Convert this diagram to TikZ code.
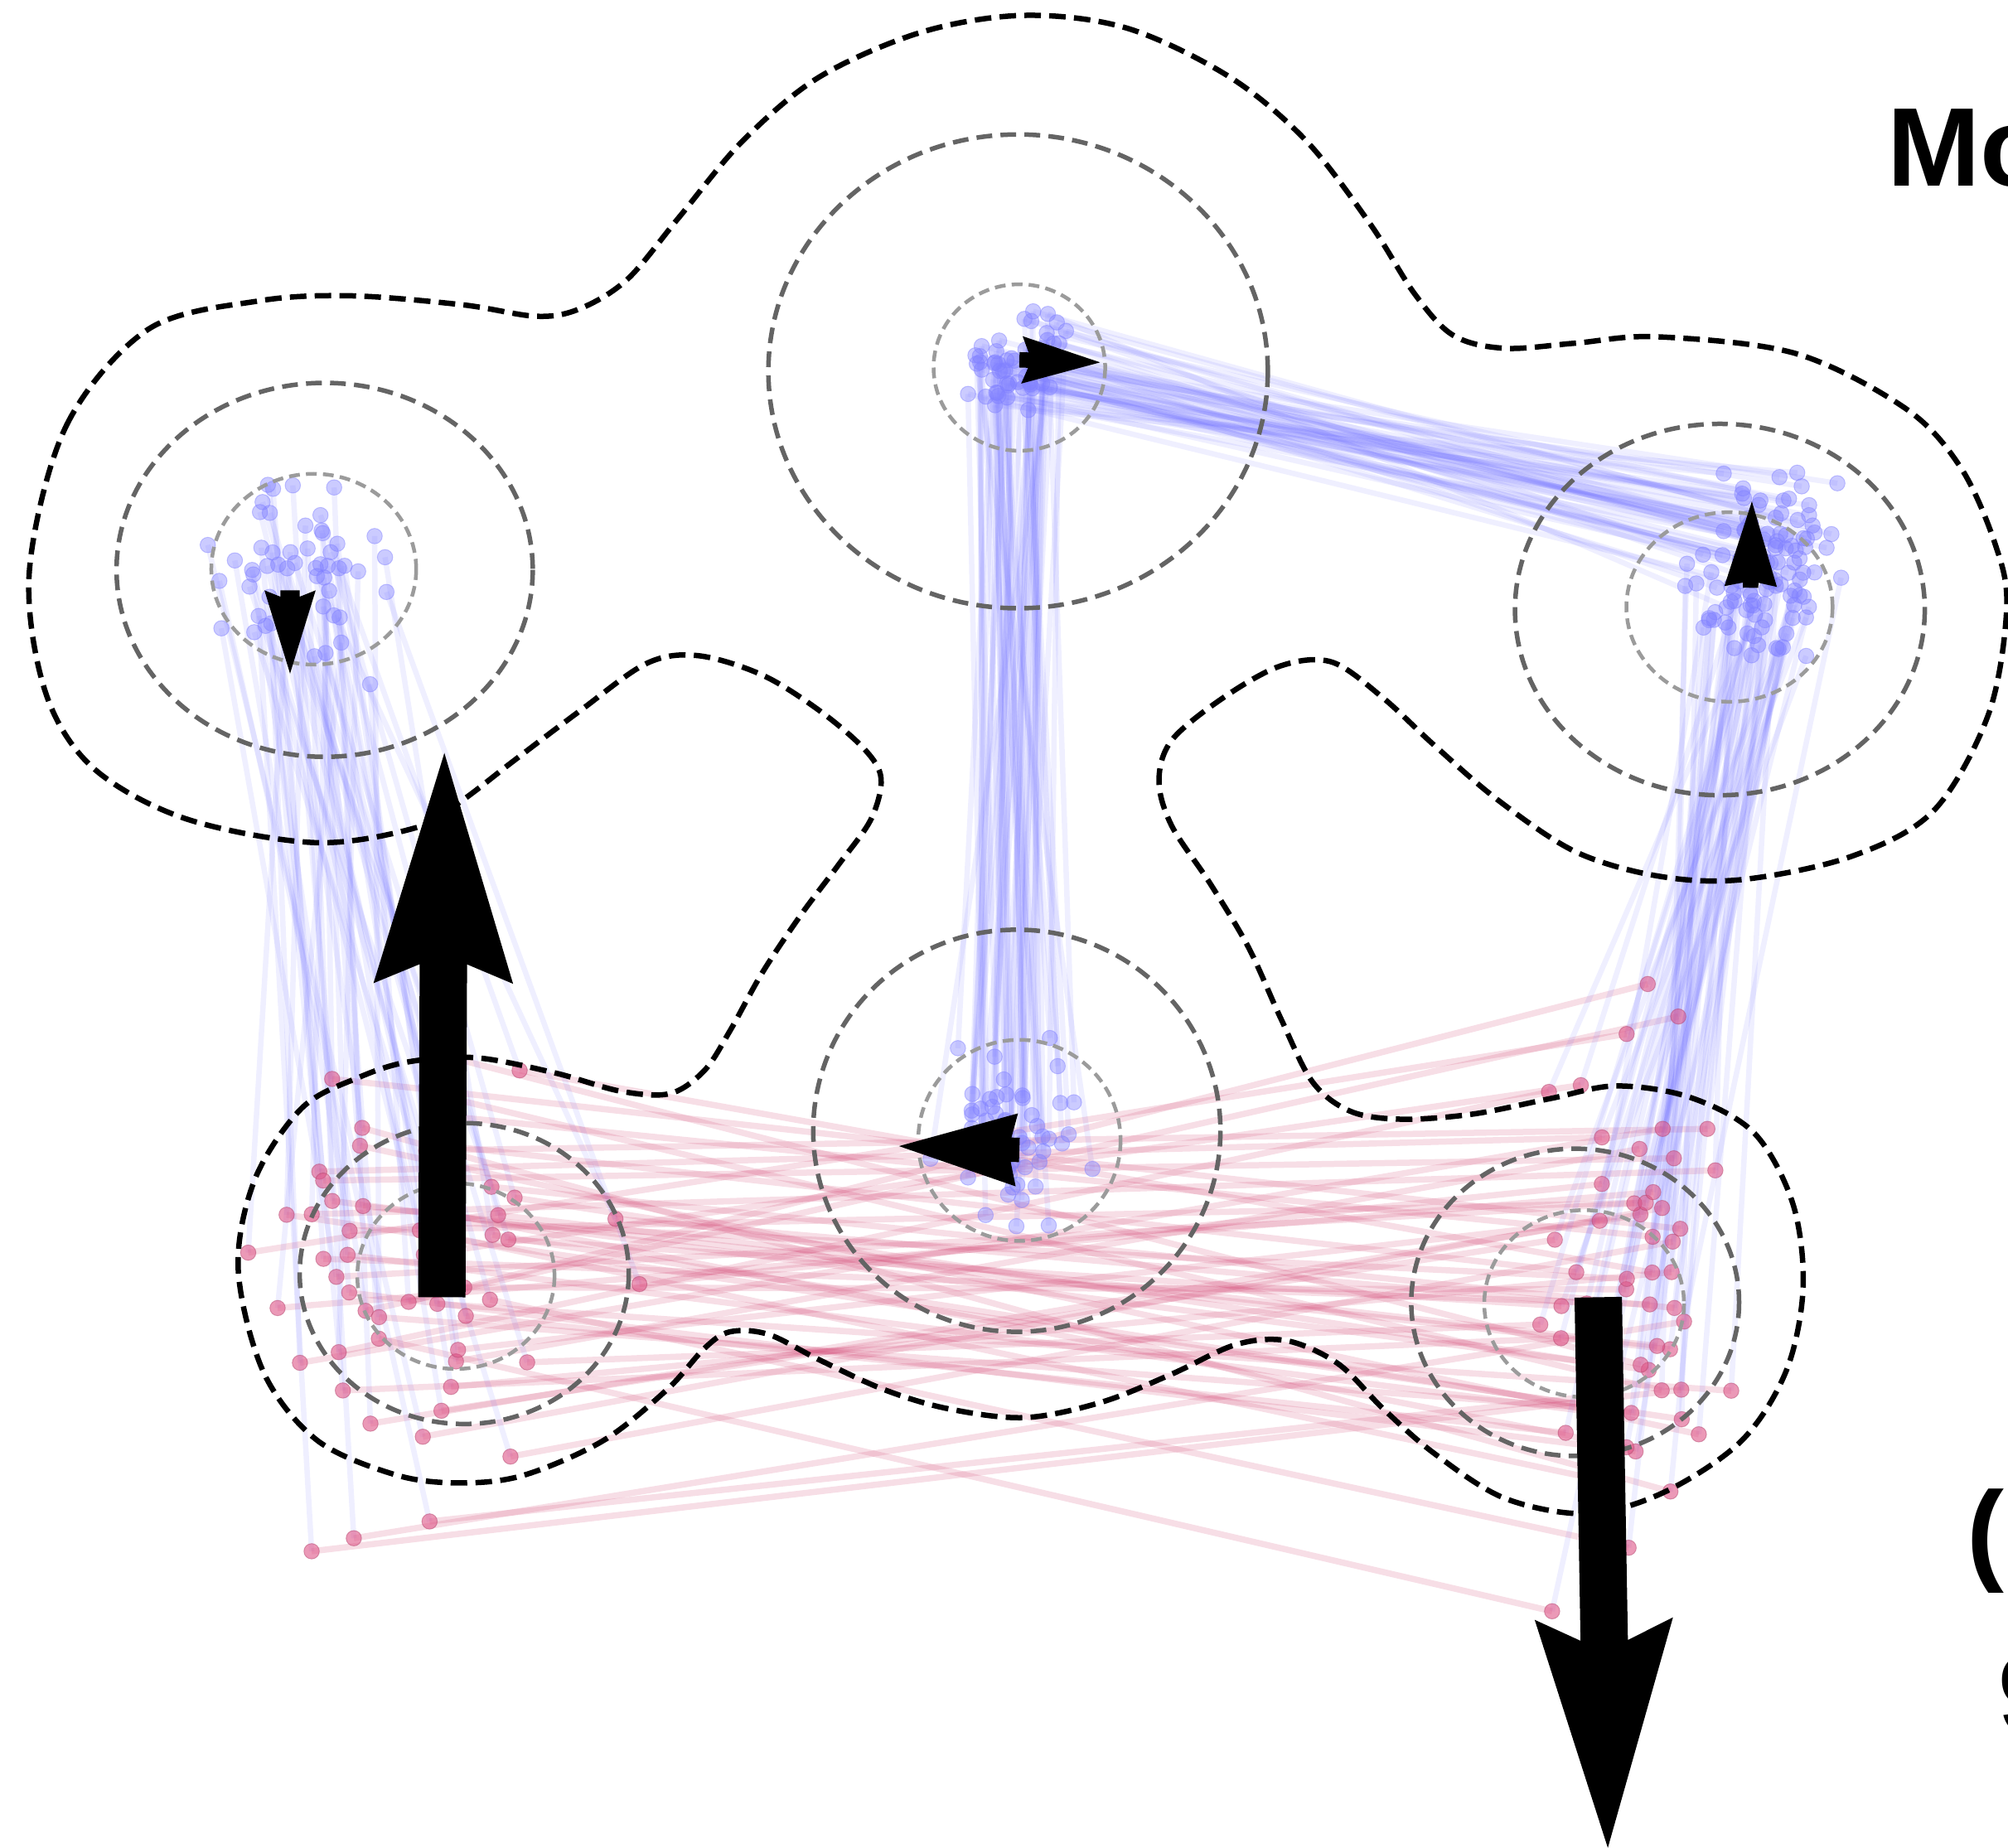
\documentclass[tikz,border=0pt]{standalone}
\usepackage{fontspec}
\newfontfamily\labfont{Liberation Sans}
\definecolor{bluel}{RGB}{95,95,255}
\definecolor{bluedot}{RGB}{130,130,255}
\definecolor{redl}{RGB}{205,50,100}
\definecolor{reddot}{RGB}{222,85,135}
\definecolor{dgray}{RGB}{100,100,100}
\definecolor{lgray}{RGB}{155,155,155}
\tikzset{
 bigcontour/.style={black, line width=0.065cm, dash pattern=on 0.2cm off 0.1cm},
 ringdark/.style={dgray, line width=0.055cm, dash pattern=on 0.19cm off 0.1cm},
 ringlight/.style={lgray, line width=0.045cm, dash pattern=on 0.13cm off 0.075cm},
 bline/.style={bluel, opacity=0.10, line width=0.065cm},
 rline/.style={redl, opacity=0.16, line width=0.075cm},
 bdot/.style={fill=bluedot, draw=bluedot, fill opacity=0.42, draw opacity=0.45, line width=0.01cm},
 rdot/.style={fill=reddot, draw=reddot!80!black, fill opacity=0.6, draw opacity=0.45, line width=0.01cm},
 lbl/.style={font=\labfont\bfseries\fontsize{38.4}{46}\selectfont, inner sep=0pt, outer sep=0pt, anchor=base west}
}
\newcommand\mkpt[5]{%
  \pgfmathsetmacro\tmpx{#2+#4*(rand+rand+rand)}%
  \pgfmathsetmacro\tmpy{#3+#5*(rand+rand+rand)}%
  \coordinate (#1) at (\tmpx,\tmpy);%
}
\newcommand\mkall{%
  \mkpt{pTL}{228}{452}{34}{36}%
  \mkpt{pBL}{330}{1010}{68}{88}%
  \mkpt{pBR}{1265}{1010}{42}{95}%
  \mkpt{pTRa}{1385}{420}{28}{28}%
  \mkpt{pTRb}{1365}{470}{26}{22}%
  \mkpt{pTM}{792}{290}{18}{18}%
  \mkpt{pBM}{790}{885}{34}{32}%
}
\newcommand\fatarrow[8]{%
  \pgfmathsetmacro\fdx{#3-#1}%
  \pgfmathsetmacro\fdy{#4-#2}%
  \pgfmathsetmacro\fL{100*sqrt((\fdx/100)^2+(\fdy/100)^2)}%
  \pgfmathsetmacro\fux{\fdx/\fL}%
  \pgfmathsetmacro\fuy{\fdy/\fL}%
  \fill[black] ({#1+#7*\fuy},{#2-#7*\fux}) -- ({#1+#6*\fux+#7*\fuy},{#2+#6*\fuy-#7*\fux}) -- ({#1+#5*\fux+#8*\fuy},{#2+#5*\fuy-#8*\fux}) -- (#3,#4) -- ({#1+#5*\fux-#8*\fuy},{#2+#5*\fuy+#8*\fux}) -- ({#1+#6*\fux-#7*\fuy},{#2+#6*\fuy+#7*\fux}) -- ({#1-#7*\fuy},{#2+#7*\fux}) -- cycle;%
}
\begin{document}
\begin{tikzpicture}[x=0.015453cm, y=-0.015453cm]
\useasboundingbox (0,0) rectangle (1568,1443);
\clip (0,0) rectangle (1568,1443);
% trajectories
\pgfmathsetseed{12}
\foreach \i in {1,...,55}{
  \mkall
  \draw[bline] (pTL) -- (pBL);
  \draw[bline] (pTM) -- (pBM);
  \draw[bline] (pTM) -- (pTRa);
  \draw[bline] (pTRb) -- (pBR);
  \draw[rline] (pBL) -- (pBR);
}
\pgfmathsetseed{12}
\foreach \i in {1,...,55}{
  \mkall
  \fill[bdot] (pTL) circle[radius=6];
  \fill[bdot] (pTM) circle[radius=6];
  \fill[bdot] (pBM) circle[radius=6];
  \fill[bdot] (pTRa) circle[radius=6];
  \fill[bdot] (pTRb) circle[radius=6];
  \filldraw[rdot] (pBL) circle[radius=6];
  \filldraw[rdot] (pBR) circle[radius=6];
}
% rings
\draw[ringdark] (253.5,445) ellipse[x radius=162.5, y radius=146];
\draw[ringlight] (245,444.5) ellipse[x radius=80, y radius=74.5];
\draw[ringdark] (795,290) ellipse[x radius=195, y radius=185];
\draw[ringlight] (796,287) ellipse[x radius=67, y radius=65];
\draw[ringdark] (1343,476) ellipse[x radius=160, y radius=145];
\draw[ringlight] (1350.5,474) ellipse[x radius=80.5, y radius=74];
\draw[ringdark] (794,883) ellipse[x radius=159, y radius=157];
\draw[ringlight] (796,890.5) ellipse[x radius=79, y radius=78.5];
\draw[ringdark] (362.5,994.5) ellipse[x radius=128.5, y radius=117.5];
\draw[ringlight] (356,996.5) ellipse[x radius=77, y radius=72.5];
\draw[ringdark] (1230,1017) ellipse[x radius=128, y radius=120];
\draw[ringlight] (1237,1018) ellipse[x radius=78, y radius=73];
% outer contour
\draw[bigcontour] plot[smooth cycle, tension=0.55] coordinates {
 (23,445) (52,332) (116,257) (202,235) (274,231) (361,238) (419,247) (453,241)
 (490,218) (530,170) (580,110) (640,60) (720,25) (800,12) (880,22) (960,60)
 (1020,110) (1070,175) (1105,230) (1135,262) (1175,272) (1230,268) (1294,263)
 (1402,276) (1488,319) (1531,365) (1558,425) (1567,474) (1553,557) (1510,633)
 (1445,669) (1359,687) (1294,684) (1230,665) (1170,625) (1120,582) (1080,545)
 (1040,517) (1000,520) (955,545) (915,578) (905,610) (915,645) (945,690)
 (975,740) (1000,795) (1025,845) (1055,868) (1095,874) (1150,870) (1210,858)
 (1262,848) (1320,857) (1370,885) (1400,940) (1408,1005) (1395,1070) (1360,1125)
 (1300,1165) (1240,1182) (1175,1170) (1120,1135) (1080,1100) (1045,1065)
 (1005,1047) (965,1050) (915,1073) (860,1095) (800,1107) (740,1100) (690,1085)
 (640,1062) (600,1042) (570,1040) (550,1053) (521,1085) (471,1125) (409,1152)
 (360,1158) (310,1152) (248,1125) (206,1072) (186,991) (199,921) (236,865)
 (281,841) (320,829) (372,826) (434,838) (484,852) (523,854) (550,836)
 (570,805) (595,760) (625,715) (655,675) (680,640) (688,608) (675,585)
 (640,555) (595,527) (545,512) (505,518) (453,555) (400,595) (361,625)
 (326,646) (246,658) (144,639) (72,599) (35,539)
};
% arrows
\fatarrow{345}{1013}{347}{588}{245}{260}{18.5}{54.5}
\fatarrow{1248}{1013}{1255.5}{1443}{251}{268}{18.5}{54}
\fatarrow{226.5}{461}{226.5}{526}{0}{5}{7.5}{20}
\fatarrow{796}{281}{859}{283}{2}{7}{6}{18.5}
\fatarrow{1367}{459}{1368}{391.5}{1}{4}{6}{20.5}
\fatarrow{796}{898}{702}{895}{2}{6.5}{9.5}{28.5}
% cut-off labels, as in the reference
\node[lbl] (tMo) at (1473.6,145.6) {Mo};
\node[lbl] (tPar) at (1536,1226.3) {(};
\node[lbl] (tNine) at (1560.5,1352.5) {9};
\end{tikzpicture}
\end{document}
